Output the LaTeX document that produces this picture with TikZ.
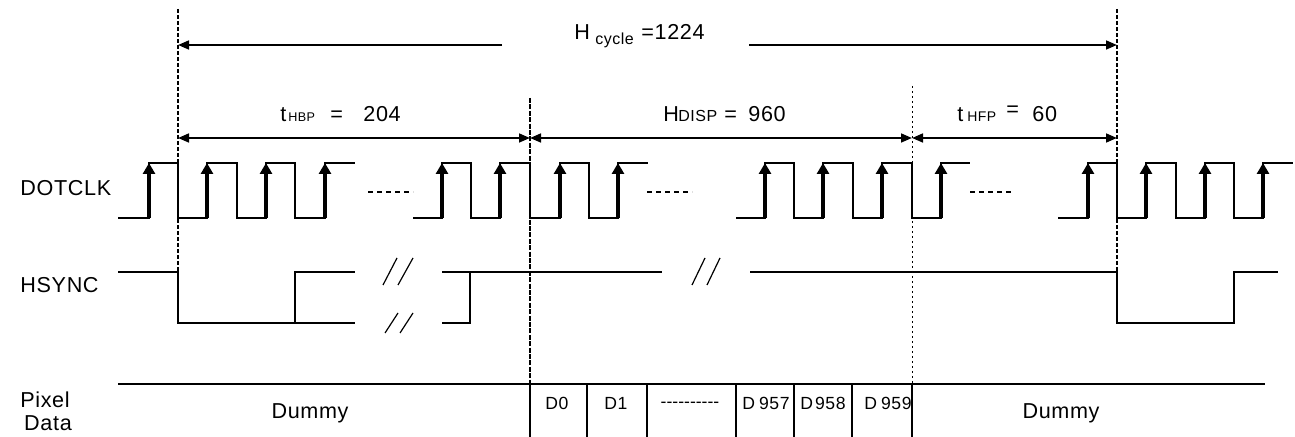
\documentclass[tikz,border=0pt]{standalone}
\usepackage{fontspec}
\setmainfont[LetterSpace=3]{Liberation Sans}
\usetikzlibrary{arrows.meta}
\newcommand\hy{\mbox{-}}
\begin{document}
\begin{tikzpicture}[x=0.5pt,y=-0.5pt,
  wave/.style={line width=0.6pt},
  dimone/.style={line width=1.1pt,-{Triangle[length=5.5pt,width=4.4pt]}},
  dimboth/.style={line width=1.1pt,{Triangle[length=5.5pt,width=4.4pt]}-{Triangle[length=5.5pt,width=4.4pt]}},
  edgearrow/.style={line width=1.7pt,-{Triangle[length=5.5pt,width=6pt]}},
  bigdash/.style={line width=1pt,dash pattern=on 2pt off 1pt},
  middash/.style={line width=0.9pt,dash pattern=on 2.5pt off 0.7pt},
  finedot/.style={line width=0.5pt,dash pattern=on 1pt off 1.5pt},
  clkdots/.style={line width=1pt,dash pattern=on 2.5pt off 2pt},
  txt/.style={inner sep=0pt,font=\fontsize{10.8}{12}\selectfont},
  celltxt/.style={inner sep=0pt,font=\fontsize{8.8}{10}\selectfont},
  subA/.style={inner sep=0pt,font=\fontsize{6.3}{7}\selectfont},
  subB/.style={inner sep=0pt,font=\fontsize{8}{9}\selectfont},
  subC/.style={inner sep=0pt,font=\fontsize{7}{8}\selectfont},
]
\useasboundingbox (0,0) rectangle (1295,437);

% vertical reference lines
\draw[bigdash] (178,9) -- (178,285);
\draw[bigdash] (1117,9) -- (1117,285);
\draw[middash] (530,98) -- (530,384);
\draw[finedot] (912,86) -- (912,384);

% H cycle arrows
\coordinate (hcl) at (178,45);
\coordinate (hcla) at (502,45);
\coordinate (hcr) at (1117,45);
\coordinate (hcra) at (749,45);
\draw[dimone] (hcla) -- (hcl);
\draw[dimone] (hcra) -- (hcr);
\node[txt,anchor=base west] (hcH) at (574,40) {H};
\node[subB,anchor=base west] (hcS) at (595,45) {cycle};
\node[txt,anchor=base west] (hcV) at (641,40) {=1224};

% second row arrows
\coordinate (a1) at (178,138);
\coordinate (a2) at (530,138);
\coordinate (a3) at (912,138);
\coordinate (a4) at (1117,138);
\draw[dimboth] (a1) -- (a2);
\draw[dimboth] (a2) -- (a3);
\draw[dimboth] (a3) -- (a4);

\node[txt,anchor=base west] (hbpT) at (280,122) {t};
\node[subA,anchor=base west] (hbpS) at (288,122) {HBP};
\node[txt,anchor=base west] (hbpE) at (330,122) {=};
\node[txt,anchor=base west] (hbpV) at (363,122) {204};

\node[txt,anchor=base west] (dspH) at (663,122) {H};
\node[subB,anchor=base west] (dspS) at (678,122) {DISP};
\node[txt,anchor=base west] (dspE) at (724,122) {=};
\node[txt,anchor=base west] (dspV) at (748,122) {960};

\node[txt,anchor=base west] (hfpT) at (957,122) {t};
\node[subC,anchor=base west] (hfpS) at (967,122) {HFP};
\node[txt,anchor=base west] (hfpE) at (1006,117) {=};
\node[txt,anchor=base west] (hfpV) at (1032,122) {60};

% signal names
\node[txt,anchor=base west] (nclk) at (20,196) {DOTCLK};
\node[txt,anchor=base west] (nhs) at (20,293) {HSYNC};
\node[txt,anchor=base] (npix) at (45,408) {Pixel};
\node[txt,anchor=base] (ndat) at (48,431) {Data};

% DOTCLK
\draw[wave] (118,218) -- (149,218) -- (149,163) -- (178,163) -- (178,218) -- (207,218) -- (207,163) -- (237,163) -- (237,218) -- (266,218) -- (266,163) -- (295,163) -- (295,218) -- (325,218) -- (325,163) -- (355,163);
\draw[wave] (413,218) -- (442,218) -- (442,163) -- (471,163) -- (471,218) -- (500,218) -- (500,163) -- (530,163) -- (530,218) -- (560,218) -- (560,163) -- (589,163) -- (589,218) -- (618,218) -- (618,163) -- (648,163);
\draw[wave] (736,218) -- (765,218) -- (765,163) -- (794,163) -- (794,218) -- (823,218) -- (823,163) -- (853,163) -- (853,218) -- (882,218) -- (882,163) -- (912,163) -- (912,218) -- (941,218) -- (941,163) -- (970,163);
\draw[wave] (1058,218) -- (1088,218) -- (1088,163) -- (1117,163) -- (1117,218) -- (1146,218) -- (1146,163) -- (1176,163) -- (1176,218) -- (1205,218) -- (1205,163) -- (1234,163) -- (1234,218) -- (1263,218) -- (1263,163) -- (1293,163);
\foreach \x in {149,207,266,325,442,500,560,618,765,823,882,941,1088,1146,1205,1263}
  \draw[edgearrow] (\x,218) -- (\x,163);
\draw[clkdots] (368,192) -- (413,192);
\draw[clkdots] (647,192) -- (692,192);
\draw[clkdots] (970,192) -- (1013,192);

% HSYNC
\draw[wave] (118,272) -- (178,272) -- (178,323) -- (355,323);
\draw[wave] (295,323) -- (295,272) -- (355,272);
\draw[wave] (442,323) -- (470,323) -- (470,272);
\draw[wave] (442,272) -- (662,272);
\draw[wave] (750,272) -- (1117,272) -- (1117,323) -- (1234,323) -- (1234,272) -- (1278,272);
% break marks
\draw[wave] (383,285) -- (397,258);
\draw[wave] (398,285) -- (413,258);
\draw[wave] (385,333) -- (398,313);
\draw[wave] (400,333) -- (413,313);
\draw[wave] (692,285) -- (705,258);
\draw[wave] (707,285) -- (720,258);

% Pixel data
\draw[line width=0.8pt] (118,384) -- (1265,384);
\foreach \x in {530,587,647,736,794,852,912}
  \draw[line width=0.6pt] (\x,384) -- (\x,437);
\node[txt] (dm1) at (310,413) {Dummy};
\node[celltxt,anchor=base] (c0) at (557,410) {D0};
\node[celltxt,anchor=base] (c1) at (616,410) {D1};
\node[celltxt,anchor=base] (cd) at (690,408) {\hy\hy\hy\hy\hy\hy\hy\hy\hy\hy};
\node[celltxt,anchor=base] (c957) at (766,410) {D\hspace{2pt}957};
\node[celltxt,anchor=base] (c958) at (823,410) {D\hspace{1pt}958};
\node[celltxt,anchor=base] (c959) at (888,410) {D\hspace{2pt}959};
\node[txt] (dm2) at (1061,413) {Dummy};
\end{tikzpicture}
\end{document}
